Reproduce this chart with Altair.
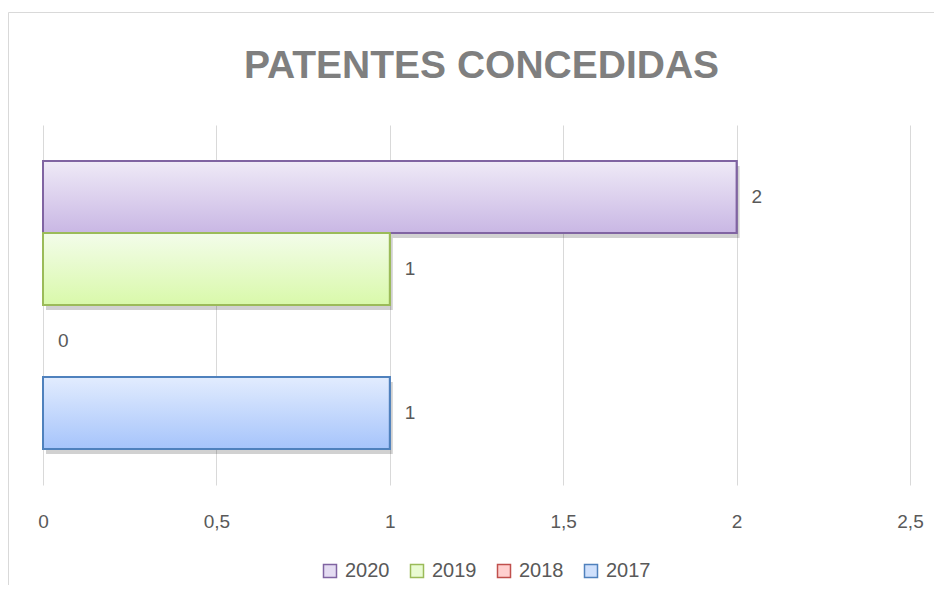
import altair as alt
import pandas as pd

# ---- data ----
years = ["2020", "2019", "2018", "2017"]
values = [2, 1, 0, 1]
fill_light = ["#e4dcf2", "#e9fbd2", "#ffd0cf", "#cfe0fc"]
stroke_dark = ["#8064a2", "#9bbb59", "#c0504d", "#4f81bd"]
grad_top = ["#efeaf7", "#f3fcea", "#ffe6e6", "#e2ecfe"]
grad_bot = ["#c9b7e4", "#d9f9aa", "#ffb3b3", "#a6c4fb"]
x_ticks = [0, 0.5, 1, 1.5, 2, 2.5]
title_text = "PATENTES CONCEDIDAS"

df = pd.DataFrame({"year": years, "value": values})

FONT = "Liberation Sans"
LABEL = "#595959"

y_enc = alt.Y("year:N", sort=years, axis=None,
              scale=alt.Scale(paddingInner=0, paddingOuter=0.5))
x_enc = alt.X("value:Q",
              scale=alt.Scale(domain=[0, 2.5], nice=False, zero=True),
              axis=alt.Axis(values=x_ticks, title=None, domain=False, ticks=False,
                            grid=True, gridColor="#d9d9d9", gridWidth=1,
                            labelFontSize=19, labelColor=LABEL, labelFont=FONT,
                            labelPadding=27, labelFlush=False,
                            labelExpr="replace(toString(datum.value), '.', ',')"))

base = alt.Chart(df)

nonzero = base.transform_filter("datum.value > 0")

shadow = nonzero.mark_bar(color="#000000", opacity=0.18, xOffset=3, yOffset=5).encode(
    x=x_enc, y=y_enc)

flat = base.mark_bar(strokeWidth=2).encode(
    x=x_enc, y=y_enc,
    fill=alt.Fill("year:N", scale=alt.Scale(domain=years, range=fill_light),
                  legend=alt.Legend(title=None)),
    stroke=alt.Stroke("year:N", scale=alt.Scale(domain=years, range=stroke_dark),
                      legend=alt.Legend(title=None)),
).transform_filter("datum.value > 0")

grad_layers = []
for yr, v, top, bot, st in zip(years, values, grad_top, grad_bot, stroke_dark):
    if v <= 0:
        continue
    g = {"gradient": "linear", "x1": 0, "y1": 0, "x2": 0, "y2": 1,
         "stops": [{"offset": 0, "color": top}, {"offset": 1, "color": bot}]}
    grad_layers.append(
        base.transform_filter(alt.datum.year == yr)
        .mark_bar(fill=g, stroke=st, strokeWidth=2)
        .encode(x=x_enc, y=y_enc)
    )

labels = base.mark_text(align="left", baseline="middle", dx=15, fontSize=19,
                        font=FONT, color=LABEL).encode(
    x=x_enc, y=y_enc, text=alt.Text("value:Q"))

title = alt.Chart(pd.DataFrame({"t": [title_text]})).mark_text(
    align="center", baseline="alphabetic", fontSize=39, fontWeight="bold",
    font=FONT, color="#7f7f7f").encode(
    x=alt.value(438.5), y=alt.value(-47), text="t:N")

border_v = alt.Chart(pd.DataFrame({"a": [0]})).mark_rule(color="#d9d9d9", strokeWidth=1).encode(
    x=alt.value(-34.5), y=alt.value(-112.5), y2=alt.value(470))
border_h = alt.Chart(pd.DataFrame({"a": [0]})).mark_rule(color="#d9d9d9", strokeWidth=1).encode(
    x=alt.value(-34.5), x2=alt.value(900), y=alt.value(-112.5))

chart = alt.layer(shadow, flat, *grad_layers, labels, title, border_v, border_h).properties(
    width=867, height=360,
    padding={"left": 35, "top": 117, "right": 24, "bottom": 100},
    autosize=alt.AutoSizeParams(type="none"),
    background="white",
).configure_view(stroke=None).configure_legend(
    orient="none", legendX=277, legendY=436, direction="horizontal",
    symbolType="square", symbolSize=169, symbolStrokeWidth=1.5,
    labelFontSize=20, labelFont=FONT, labelColor=LABEL, labelOffset=5,
    columnPadding=17,
)

chart.save("out.html", embed_options={"renderer": "svg", "actions": False})
